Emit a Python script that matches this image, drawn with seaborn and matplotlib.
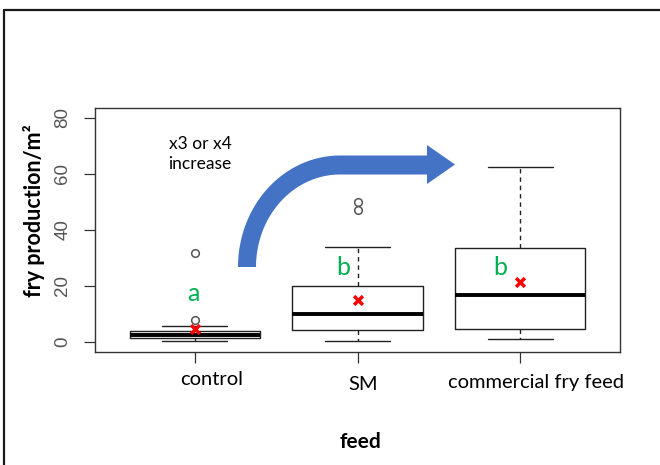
import matplotlib
matplotlib.use("Agg")
import matplotlib.pyplot as plt
from matplotlib.patches import Polygon
from matplotlib.lines import Line2D
import numpy as np
import seaborn as sns

# Five-number summaries of fry production per feed
feeds = ["control", "SM", "commercial fry feed"]
whisker_low = [0.4, 0.4, 1.1]
q1 = [1.5, 4.2, 4.5]
median = [2.4, 9.9, 16.9]
q3 = [3.8, 20.1, 33.4]
whisker_high = [5.6, 34.0, 62.3]
outliers = [[8.0, 31.6], [47.1, 50.1], []]
means = [4.5, 14.9, 21.4]

# Significance groups
group_letters = ["a", "b", "b"]
letter_y = [17.4, 26.7, 26.7]

y_ticks = [0, 20, 40, 60, 80]

sns.set_style("white")
plt.rcParams["font.family"] = ["Lato", "DejaVu Sans"]

W, H = 660, 465
fig = plt.figure(figsize=(W / 100, H / 100), dpi=100)
ax = fig.add_axes([95 / W, 1 - 352 / H, 525 / W, 244 / H])

pos = np.arange(len(feeds))
stats = []
for i, name in enumerate(feeds):
    stats.append(dict(label=name, whislo=whisker_low[i], q1=q1[i], med=median[i],
                      q3=q3[i], whishi=whisker_high[i], fliers=outliers[i]))

ax.bxp(stats, positions=pos, widths=0.8, showfliers=True, patch_artist=False,
       boxprops=dict(color="#222222", linewidth=1.0),
       medianprops=dict(color="black", linewidth=2.8, solid_capstyle="butt"),
       whiskerprops=dict(color="#222222", linewidth=1.0, linestyle=(0, (3.2, 2.8))),
       capprops=dict(color="#222222", linewidth=1.0),
       capwidths=0.4,
       flierprops=dict(marker="o", markersize=5.5, markerfacecolor="none",
                       markeredgecolor="#555555", markeredgewidth=1.1))

# group means
sns.scatterplot(x=pos, y=means, marker="x", s=40, color="red", linewidth=2.5,
                ax=ax, zorder=5, legend=False)

# group letters
letter_dx = [-0.012, -0.09, -0.12]
for i, letter in enumerate(group_letters):
    ax.text(pos[i] + letter_dx[i], letter_y[i], letter, color="#00B050",
            fontsize=18, ha="center", va="center")

ax.set_xlim(-0.615, 2.615)
ax.set_ylim(-3.6, 83.5)

for s in ax.spines.values():
    s.set_color("#333333")
    s.set_linewidth(1.0)

ax.set_yticks(y_ticks)
ax.set_yticklabels([str(t) for t in y_ticks], rotation=90, va="center",
                   fontsize=13.5, color="#555555", family=["Liberation Sans"])
ax.tick_params(axis="y", length=8, width=0.9, color="#333333", pad=9, left=True)
ax.set_xticks(pos)
ax.set_xticklabels([])
ax.tick_params(axis="x", length=8, width=0.9, color="#333333", bottom=True)
ax.set_xlabel("")

# category names under the axis
label_dx = [0.1, 0.037, 0.1]
label_y = [-0.111, -0.135, -0.127]
trans = matplotlib.transforms.blended_transform_factory(ax.transData, ax.transAxes)
for i, name in enumerate(feeds):
    ax.text(pos[i] + label_dx[i], label_y[i], name, transform=trans,
            ha="center", va="center", fontsize=14.5, color="black")

ax.text(0.505, -0.369, "feed", transform=ax.transAxes, ha="center", va="center",
        fontsize=15, fontweight="bold", color="black")

ax.set_ylabel("fry production/m²", fontsize=15.5, fontweight="bold", color="black")
ax.yaxis.set_label_coords((34 - 95) / 525, (352 - 211) / 244)
ax.yaxis.label.set_va("center")

# annotation text
ax.text((200 - 95) / 525, (352 - 154) / 244, "x3 or x4\nincrease", transform=ax.transAxes,
        ha="center", va="center", fontsize=12.5, linespacing=1.3, color="black")

# curved block arrow, in figure pixels
cx, cy = 340, 267
th = np.linspace(np.pi, np.pi / 2, 40)
outer = [(cx + 102 * np.cos(t), cy - 111.5 * np.sin(t)) for t in th]
inner = [(cx + 84 * np.cos(t), cy - 92.5 * np.sin(t)) for t in th[::-1]]
pts = outer + [(427, 155.5), (427, 145), (455, 164.5), (427, 184), (427, 174.5)] + inner
pts = [(x / W, 1 - y / H) for x, y in pts]
fig.patches.append(Polygon(pts, closed=True, transform=fig.transFigure,
                           facecolor="#4472C4", edgecolor="none", zorder=10))

# outer frame lines
fig.add_artist(Line2D([3.5 / W, 3.5 / W], [0, 1 - 10.5 / H], transform=fig.transFigure,
                      color="#1a1a1a", linewidth=1.6))
fig.add_artist(Line2D([3.5 / W, 1], [1 - 10.5 / H, 1 - 10.5 / H], transform=fig.transFigure,
                      color="#1a1a1a", linewidth=1.6))

fig.savefig("out.png", dpi=100)
